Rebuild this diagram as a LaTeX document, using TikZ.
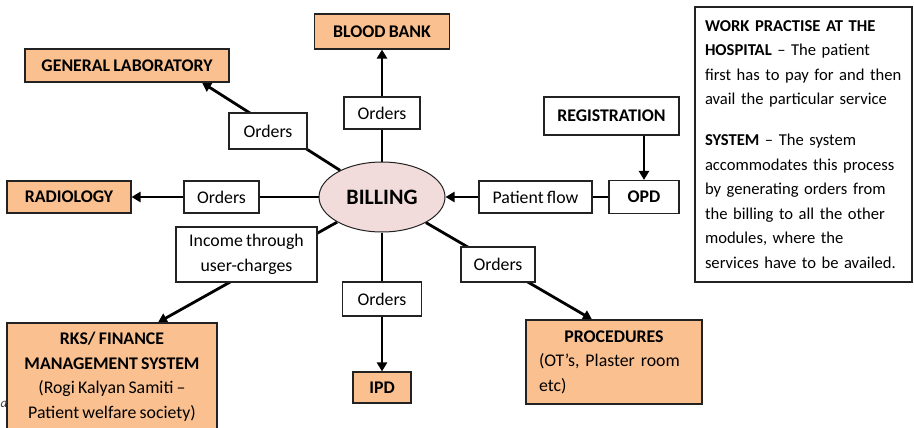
\documentclass[tikz,border=0pt]{standalone}
\usepackage{fontspec}
\setmainfont{Carlito}[WordSpace=0.8]
\usetikzlibrary{arrows.meta,shapes.geometric,backgrounds}
\definecolor{unitfill}{HTML}{FAC090}
\definecolor{billfill}{HTML}{F2DCDB}
\definecolor{edge}{HTML}{222222}
\begin{document}
\begin{tikzpicture}[x=1pt,y=-1pt,
  txt/.style={font=\fontsize{17.8}{24.5}\selectfont},
  box/.style={txt, draw=edge, line width=1.1pt, fill=white, inner sep=0pt, align=center},
  unit/.style={box, fill=unitfill, font=\fontsize{17.8}{24.5}\selectfont\bfseries},
  link/.style={draw=black, line width=2.8pt},
  flow/.style={link, -{Triangle[length=9pt,width=10pt]}}]
\useasboundingbox (0,0) rectangle (914,428);

% central billing module
\node[ellipse, draw=edge, line width=1pt, fill=billfill, minimum width=126pt, minimum height=70pt,
      inner sep=0pt, font=\fontsize{22}{24}\selectfont\bfseries] (billing) at (382,197) {BILLING};

% service modules
\node[unit, minimum width=135pt, minimum height=35pt] (bank) at (382,31.5) {BLOOD BANK};
\node[unit, minimum width=204pt, minimum height=33pt] (genlab) at (127,65.5) {GENERAL LABORATORY};
\node[unit, minimum width=124pt, minimum height=32pt] (radiology) at (69,197) {RADIOLOGY};
\node[unit, minimum width=58pt, minimum height=31pt] (ipd) at (382,387.5) {IPD};
\node[unit, minimum width=210pt, minimum height=107pt] (rks) at (112,376.5)
  {RKS/ FINANCE\\MANAGEMENT SYSTEM\\\mdseries(Rogi Kalyan Samiti –\\\mdseries Patient welfare society)};
\node[unit, minimum width=176pt, minimum height=84pt, text width=150pt, align=left] (proc) at (614,362)
  {\hspace*{\fill}PROCEDURES\hspace*{\fill}\mbox{}\\\mdseries(OT’s, Plaster room\\\mdseries etc)};

% patient entry
\node[box, font=\fontsize{17.8}{24.5}\selectfont\bfseries, minimum width=135pt, minimum height=38pt] (registration) at (611.5,116) {REGISTRATION};
\node[box, font=\fontsize{17.8}{24.5}\selectfont\bfseries, minimum width=70pt, minimum height=33pt] (opd) at (644,197) {OPD};

% connector labels
\node[box, minimum width=78pt, minimum height=36pt] (o1) at (268,131) {Orders};
\node[box, minimum width=76pt, minimum height=32pt] (o2) at (382,113) {Orders};
\node[box, minimum width=75pt, minimum height=32pt] (o3) at (221.5,197) {Orders};
\node[box, minimum width=79pt, minimum height=34pt] (o4) at (382,299) {Orders};
\node[box, minimum width=74pt, minimum height=35pt] (o5) at (498,264.5) {Orders};
\node[box, minimum width=113pt, minimum height=32pt] (pflow) at (535.5,197) {Patient flow};
\node[box, minimum width=141pt, minimum height=55pt] (income) at (246.5,254.5) {Income through\\user-charges};

% explanatory note
\node[box, font=\fontsize{16.6}{24.5}\selectfont, minimum width=217pt, minimum height=275pt, text width=197pt, align=left] (info) at (803.5,144.5)
  {\mbox{\textbf{WORK PRACTISE AT THE}}\\
   \mbox{\textbf{HOSPITAL} – The patient}\\
   \mbox{first has to pay for and then}\\
   \mbox{avail the particular service}\\[16.5pt]
   \mbox{\textbf{SYSTEM} – The system}\\
   \mbox{accommodates this process}\\
   \mbox{by generating orders from}\\
   \mbox{the billing to all the other}\\
   \mbox{modules, where the}\\
   \mbox{services have to be availed.}};

\node[font=\fontsize{13}{13}\selectfont\itshape, text=black!75, inner sep=0pt] (mark) at (4,404) {a};

% arrow end points on module borders
\coordinate (gltip) at ([xshift=75pt]genlab.south);
\coordinate (rkstip) at ([xshift=46pt]rks.north);
\coordinate (proctip) at ([xshift=-22pt]proc.north);

\begin{scope}[on background layer]
  \draw[flow] (billing) -- (bank);
  \draw[flow] (billing) -- (gltip);
  \draw[flow] (billing) -- (radiology);
  \draw[flow] (billing) -- (ipd);
  \draw[flow] (billing) -- (rkstip);
  \draw[flow] (billing) -- (proctip);
  \draw[flow] (opd) -- (billing);
  \draw[flow] (registration.south -| opd) -- (opd);
\end{scope}
\end{tikzpicture}
\end{document}
